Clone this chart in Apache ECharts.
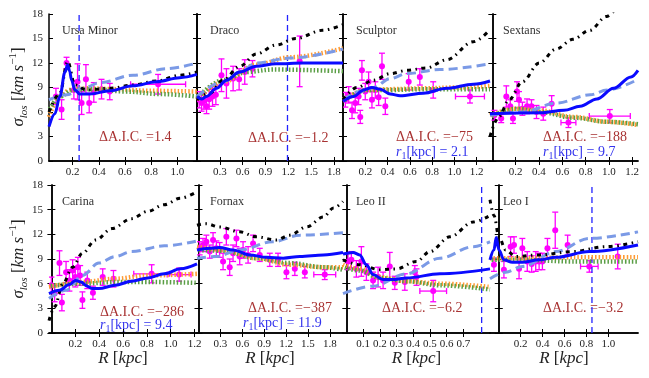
<!DOCTYPE html>
<html><head><meta charset="utf-8">
<script src="https://cdn.jsdelivr.net/npm/echarts@6/dist/echarts.min.js"></script>
<style>html,body{margin:0;padding:0;background:#fff}#c{width:649px;height:378px}</style>
</head><body><div id="c"></div><script>
// ---------- DATA ----------
const galaxyNames = ['Ursa Minor','Draco','Sculptor','Sextans','Carina','Fornax','Leo II','Leo I'];
const aicValues = ['1.4','\u22121.2','\u221275','\u2212188','\u2212286','\u2212387','\u22126.2','\u22123.2'];
const r1Values = [null,null,'2.1','9.7','9.4','11.9',null,null];
const yTicks = [0,3,6,9,12,15,18];
const xRanges = [[0.02,1.15],[0,1.92],[0,1.32],[-0.02,1.25],[-0.02,1.22],[-0.02,1.98],[-0.02,0.86],[-0.08,1.27]];
const xTicks = [
  [0.2,0.4,0.6,0.8,1.0],[0.3,0.6,0.9,1.2,1.5,1.8],[0.2,0.4,0.6,0.8,1.0,1.2],[0.2,0.4,0.6,0.8,1.0,1.2],
  [0.2,0.4,0.6,0.8,1.0,1.2],[0.3,0.6,0.9,1.2,1.5,1.8],[0.1,0.2,0.3,0.4,0.5,0.6,0.7],[0.2,0.4,0.6,0.8,1.0]];
const vlineX = [0.25,1.19,null,null,null,null,0.81,0.85];

// observed points: [R, sigma, sigmaErr, Rerr]
const umiObs = [[0.073,7.9,1.0,0],[0.116,6.3,1.2,0],[0.154,12.0,0.7,0],[0.21,8.7,1.1,0],[0.238,9.7,2.2,0],[0.269,7.1,1.4,0],[0.302,10.0,1.8,0],[0.327,7.1,1.2,0],[0.362,8.4,1.2,0],[0.421,8.8,1.2,0],[0.484,8.5,1.0,0],[0.853,9.4,1.2,0.21]];
const umiFit = [[0.02,4.2],[0.065,5.8],[0.103,7.9],[0.142,10.9],[0.162,11.8],[0.178,11.0],[0.192,9.9],[0.218,8.7],[0.256,8.2],[0.332,8.2],[0.484,8.6],[0.662,9.2],[0.84,9.7],[1.018,10.2],[1.15,10.6]];
const umiDash = [[0.02,7.5],[0.154,8.1],[0.281,8.9],[0.408,9.6],[0.662,10.5],[0.916,11.3],[1.15,12.0]];
const umiBlack = [[0.02,6.0],[0.103,8.3],[0.162,12.2],[0.218,9.3],[0.307,8.7],[0.484,8.9],[0.662,9.3],[0.84,9.8],[1.018,10.5],[1.15,10.9]];
const umiOrange = [[0.02,5.4],[0.103,7.9],[0.179,8.7],[0.307,8.9],[0.535,8.8],[0.789,8.6],[1.15,8.5]];
const umiGreen = [[0.02,6.2],[0.103,7.9],[0.205,8.7],[0.357,8.8],[0.611,8.5],[0.865,8.2],[1.15,7.9]];

const draObs = [[0.029,7.5,1.0,0],[0.06,7.1,1.0,0],[0.09,7.35,1.0,0],[0.125,6.7,0.9,0],[0.16,7.55,1.2,0],[0.204,7.9,1.2,0],[0.248,8.1,1.2,0],[0.322,10.5,2.0,0],[0.387,9.5,1.8,0],[0.475,10.1,1.5,0],[0.554,10.0,1.3,0],[0.628,10.9,1.5,0],[0.729,11.3,1.0,0],[1.35,12.2,3.1,0]];
const draFit = [[0,7.9],[0.06,7.6],[0.125,7.9],[0.256,8.9],[0.387,9.9],[0.562,10.9],[0.78,11.6],[1.04,11.9],[1.39,12.0],[1.92,12.0]];
const draDash = [[0,7.9],[0.343,9.7],[0.562,10.9],[0.78,12.0],[1.22,12.6],[1.92,13.7]];
const draBlack = [[0,7.5],[0.17,8.3],[0.343,9.9],[0.562,11.6],[0.78,13.1],[1.04,14.2],[1.3,15.0],[1.65,16.0],[1.92,16.7]];
const draOrange = [[0,7.5],[0.343,9.7],[0.78,11.8],[1.22,12.7],[1.92,13.8]];
const draGreen = [[0,7.7],[0.343,9.9],[0.65,10.9],[1.0,11.2],[1.92,11.0]];

const sclObs = [[0.021,7.5,0.9,0],[0.051,8.1,1.0,0],[0.081,6.2,1.0,0],[0.11,7.1,1.2,0],[0.14,7.9,1.0,0],[0.155,5.4,0.8,0],[0.17,11.1,1.2,0],[0.2,8.5,1.0,0],[0.23,9.7,1.2,0],[0.26,7.5,1.0,0],[0.29,8.7,1.0,0],[0.32,7.8,1.0,0],[0.35,11.6,1.6,0],[0.38,6.7,1.0,0],[0.59,9.7,1.0,0],[0.69,10.3,1.0,0],[0.81,8.7,1.0,0],[1.14,7.9,0.8,0.13]];
const sclFit = [[0,7.3],[0.095,7.9],[0.185,8.7],[0.26,9.0],[0.334,8.8],[0.424,8.2],[0.513,8.0],[0.722,8.3],[0.931,8.9],[1.17,9.4],[1.32,9.8]];
const sclDash = [[0,7.5],[0.155,8.5],[0.275,9.0],[0.424,10.1],[0.573,10.7],[0.87,11.2],[1.32,11.9]];
const sclBlack = [[0,7.5],[0.125,9.0],[0.275,9.9],[0.424,10.7],[0.573,11.1],[0.752,11.4],[0.931,12.4],[1.17,14.6],[1.32,16.1]];
const sclOrange = [[0,7.5],[0.215,8.7],[0.424,8.8],[0.722,8.9],[1.02,9.0],[1.32,9.2]];
const sclGreen = [[0,7.3],[0.215,8.7],[0.424,8.7],[0.722,8.8],[1.02,8.8],[1.32,8.8]];

const sexObs = [[0.018,5.6,0.6,0],[0.076,5.2,0.5,0],[0.12,7.9,1.3,0],[0.154,6.7,0.8,0],[0.177,5.2,0.6,0],[0.212,8.5,1.2,0],[0.229,7.5,1.0,0],[0.258,6.4,0.8,0],[0.298,6.7,0.9,0],[0.336,6.7,0.8,0],[0.379,6.0,0.8,0],[0.437,5.8,0.8,0],[0.509,7.0,1.0,0],[0.653,4.7,0.6,0.064],[1.008,5.5,0.8,0.176]];
const sexFit = [[-0.02,5.8],[0.413,5.9],[0.615,6.2],[0.754,6.7],[0.898,7.6],[1.04,8.9],[1.19,10.3],[1.25,11.1]];
const sexDash = [[-0.02,5.6],[0.263,6.0],[0.552,7.1],[0.84,8.1],[0.985,8.7],[1.25,10.0]];
const sexBlack = [[-0.02,3.0],[0.056,5.4],[0.143,7.5],[0.258,9.7],[0.403,12.0],[0.547,13.7],[0.691,14.9],[0.836,16.0],[0.98,17.7],[1.04,18.3]];
const sexOrange = [[-0.02,5.6],[0.206,6.4],[0.408,6.2],[0.697,5.4],[0.985,4.8],[1.25,4.4]];
const sexGreen = [[-0.02,5.4],[0.206,6.4],[0.408,6.0],[0.697,5.3],[0.985,4.8],[1.25,4.5]];

const carObs = [[0.0,5.8,1.0,0],[0.027,4.8,1.0,0],[0.068,8.5,1.5,0],[0.088,3.7,1.0,0],[0.123,7.4,1.3,0],[0.151,6.4,1.3,0],[0.178,7.6,1.3,0],[0.2,6.8,1.2,0],[0.222,8.0,1.2,0],[0.241,7.0,1.2,0],[0.26,4.0,1.0,0],[0.301,6.4,1.0,0],[0.348,4.9,0.8,0],[0.43,6.8,1.0,0],[0.52,6.6,1.0,0],[0.84,7.2,1.1,0.15],[1.07,7.1,0.8,0.1]];
const carFit = [[-0.02,4.8],[0.068,5.2],[0.151,5.9],[0.2,6.4],[0.247,6.2],[0.301,5.7],[0.342,5.4],[0.397,5.4],[0.534,5.8],[0.671,6.3],[0.808,6.7],[0.945,7.2],[1.082,7.8],[1.22,8.4]];
const carDash = [[-0.02,4.2],[0.123,5.2],[0.26,7.0],[0.397,8.5],[0.534,9.3],[0.671,9.9],[0.945,10.6],[1.22,11.2]];
const carBlack = [[-0.02,1.5],[0.027,3.2],[0.096,6.0],[0.178,8.0],[0.26,9.7],[0.37,11.3],[0.507,12.7],[0.671,13.9],[0.808,14.8],[0.945,15.6],[1.082,16.4],[1.22,17.2]];
const carOrange = [[-0.02,5.6],[0.26,6.2],[0.534,6.6],[0.808,7.0],[1.22,7.2]];
const carGreen = [[-0.02,5.7],[0.26,6.0],[0.534,6.2],[0.808,6.2],[1.22,6.1]];

const forObs = [[0.016,10.3,0.8,0],[0.062,10.7,0.8,0],[0.108,11.1,0.8,0],[0.154,9.9,0.8,0],[0.2,11.3,0.9,0],[0.245,10.3,0.9,0],[0.29,10.1,0.9,0],[0.337,8.7,1.0,0],[0.382,11.7,1.0,0],[0.428,8.0,1.0,0],[0.474,9.7,1.0,0],[0.52,11.5,1.0,0],[0.565,9.3,1.0,0],[0.611,10.1,1.0,0],[0.68,9.5,1.0,0],[0.748,10.9,1.0,0],[0.84,9.5,0.8,0],[0.977,8.9,0.8,0],[1.09,8.9,0.8,0],[1.205,7.4,0.8,0],[1.32,7.8,0.8,0],[1.457,7.4,0.7,0],[1.73,7.1,0.6,0.15]];
const forFit = [[-0.02,10.1],[0.154,10.3],[0.29,10.4],[0.474,10.1],[0.7,9.5],[0.93,9.2],[1.16,9.1],[1.39,9.3],[1.71,9.5],[1.98,9.8]];
const forDash = [[-0.02,9.1],[0.245,9.3],[0.565,10.1],[1.02,11.1],[1.39,11.9],[1.98,12.2]];
const forBlack = [[-0.02,13.1],[0.1,13.3],[0.29,12.9],[0.565,12.3],[0.794,11.7],[1.07,11.3],[1.25,11.9],[1.48,12.9],[1.71,14.1],[1.85,15.2],[1.98,16.0]];
const forOrange = [[-0.02,10.5],[0.337,10.1],[0.794,9.1],[1.25,8.3],[1.71,8.0],[1.98,8.0]];
const forGreen = [[-0.02,10.1],[0.337,10.0],[0.794,9.1],[1.25,8.5],[1.71,8.0],[1.98,7.7]];

const leo2Obs = [[0.01,8.7,1.0,0],[0.03,8.9,1.0,0],[0.06,7.8,1.0,0],[0.09,8.7,1.8,0],[0.12,7.4,1.0,0],[0.16,6.4,1.0,0],[0.19,6.8,1.2,0],[0.22,6.4,1.0,0],[0.26,8.1,1.7,0],[0.29,6.1,0.8,0],[0.35,6.2,1.0,0],[0.41,7.4,0.8,0],[0.42,6.8,1.0,0],[0.52,5.1,1.3,0.08]];
const leo2Fit = [[-0.02,9.6],[0.04,9.8],[0.08,9.5],[0.12,8.3],[0.16,7.1],[0.22,6.5],[0.28,6.5],[0.36,6.7],[0.56,7.2],[0.86,7.8]];
const leo2Dash = [[-0.02,4.8],[0.16,5.7],[0.36,7.2],[0.56,9.1],[0.76,10.5],[0.86,11.1]];
const leo2Black = [[-0.02,8.9],[0.08,8.3],[0.2,7.7],[0.3,7.8],[0.42,8.7],[0.5,9.9],[0.62,11.7],[0.76,13.5],[0.86,14.3]];
const leo2Orange = [[-0.02,8.3],[0.08,7.8],[0.2,6.8],[0.36,6.3],[0.56,6.0],[0.86,5.6]];
const leo2Green = [[-0.02,8.0],[0.08,7.6],[0.2,6.7],[0.36,6.3],[0.56,5.8],[0.86,5.3]];

const leo1Obs = [[-0.044,8.3,0.8,0],[0.047,7.7,1.0,0],[0.108,10.5,1.2,0],[0.139,10.7,1.0,0],[0.185,7.8,1.2,0],[0.215,10.3,1.2,0],[0.26,8.7,1.2,0],[0.30,8.4,1.0,0],[0.337,8.7,1.2,0],[0.368,8.7,1.0,0],[0.398,8.7,1.0,0],[0.444,10.3,1.2,0],[0.515,12.5,2.2,0],[0.628,10.7,1.2,0],[0.826,8.1,0.7,0.08],[1.085,9.3,1.5,0]];
const leo1Fit = [[-0.08,8.9],[-0.044,10.1],[-0.023,11.6],[0.0015,10.1],[0.047,8.9],[0.124,8.6],[0.215,8.6],[0.368,8.9],[0.52,9.2],[0.826,9.9],[1.27,10.7]];
const leo1Dash = [[-0.08,6.6],[0.063,7.4],[0.215,8.1],[0.52,9.9],[0.826,11.5],[1.27,12.3]];
const leo1Black = [[-0.08,16.2],[-0.044,14.3],[0.0015,11.7],[0.063,10.1],[0.154,9.3],[0.368,9.5],[0.674,9.9],[0.979,10.5],[1.27,11.1]];
const leo1Orange = [[-0.08,9.1],[0.215,9.1],[0.674,9.2],[1.27,9.2]];
const leo1Green = [[-0.08,8.9],[0.215,8.9],[0.674,8.7],[1.27,8.7]];

// ---------- BUILD ----------
const obsSets = [umiObs,draObs,sclObs,sexObs,carObs,forObs,leo2Obs,leo1Obs];
const fitSets = [umiFit,draFit,sclFit,sexFit,carFit,forFit,leo2Fit,leo1Fit];
const dashSets = [umiDash,draDash,sclDash,sexDash,carDash,forDash,leo2Dash,leo1Dash];
const blackSets = [umiBlack,draBlack,sclBlack,sexBlack,carBlack,forBlack,leo2Black,leo1Black];
const orangeSets = [umiOrange,draOrange,sclOrange,sexOrange,carOrange,forOrange,leo2Orange,leo1Orange];
const greenSets = [umiGreen,draGreen,sclGreen,sexGreen,carGreen,forGreen,leo2Green,leo1Green];

const SERIF = '"Liberation Serif","DejaVu Serif",serif';
const MAG = '#ff00ff';
const colL = [49,197,343,490], colW = [148,146,147,148];
const rowT = [14,185], rowH = [147,148];

const grid = [], xAxis = [], yAxis = [], series = [], graphic = [];
for (let i = 0; i < 8; i++) {
  const r = Math.floor(i/4), c = i % 4;
  grid.push({left: colL[c], top: rowT[r], width: colW[c], height: rowH[r]});
  const line = {show: true, lineStyle: {color: '#000', width: 1.5}};
  const tick = {show: true, inside: true, length: 4, customValues: xTicks[i], lineStyle: {color: '#000', width: 1}};
  xAxis.push({type: 'value', gridIndex: i, position: 'bottom', min: xRanges[i][0], max: xRanges[i][1],
    axisLine: line, axisTick: tick, splitLine: {show: false},
    axisLabel: {customValues: xTicks[i], formatter: v => v.toFixed(1), fontFamily: SERIF, fontSize: 11, color: '#222', margin: 6}});
  xAxis.push({type: 'value', gridIndex: i, position: 'top', min: xRanges[i][0], max: xRanges[i][1],
    axisLine: line, axisTick: tick, splitLine: {show: false}, axisLabel: {show: false}});
  const ytick = {show: true, inside: true, length: 4, lineStyle: {color: '#000', width: 1}};
  yAxis.push({type: 'value', gridIndex: i, position: 'left', min: 0, max: 18, interval: 3,
    axisLine: line, axisTick: ytick, splitLine: {show: false},
    axisLabel: {show: c === 0, fontFamily: SERIF, fontSize: 11, color: '#222', margin: 6}});
  yAxis.push({type: 'value', gridIndex: i, position: 'right', min: 0, max: 18, interval: 3,
    axisLine: line, axisTick: ytick, splitLine: {show: false}, axisLabel: {show: false}});
  const xi = 2*i, yi = 2*i;
  const ln = (data, style) => ({type: 'line', xAxisIndex: xi, yAxisIndex: yi, data, showSymbol: false, symbol: 'none',
    smooth: 0.35, smoothMonotone: 'x', clip: true, silent: true, lineStyle: style, animation: false});
  if (vlineX[i] !== null) {
    series.push({type: 'line', xAxisIndex: xi, yAxisIndex: yi, data: [[vlineX[i], 0], [vlineX[i], 18]], symbol: 'none',
      lineStyle: {color: '#2222ff', width: 1.3, type: [6, 4]}, animation: false});
  }
  series.push(ln(orangeSets[i], {color: '#ff9a33', width: 4.5, type: [1.5, 2]}));
  series.push(ln(greenSets[i], {color: '#5a9e45', width: 4.5, type: [1.5, 2], dashOffset: 1.7}));
  series.push(ln(dashSets[i], {color: '#7b9ae6', width: 3, type: [9, 5]}));
  series.push(ln(blackSets[i], {color: '#000', width: 3, type: [4, 4.5, 1.5, 4.5]}));
  series.push({type: 'custom', xAxisIndex: xi, yAxisIndex: yi, data: obsSets[i], clip: true, animation: false,
    encode: {x: 0, y: 1},
    renderItem: (params, api) => {
      const x = api.value(0), y = api.value(1), ey = api.value(2), ex = api.value(3);
      const p = api.coord([x, y]), t = api.coord([x, y + ey]), b = api.coord([x, y - ey]);
      const st = {stroke: MAG, lineWidth: 1.3};
      const ch = [
        {type: 'line', shape: {x1: p[0], y1: t[1], x2: p[0], y2: b[1]}, style: st},
        {type: 'line', shape: {x1: p[0]-3, y1: t[1], x2: p[0]+3, y2: t[1]}, style: st},
        {type: 'line', shape: {x1: p[0]-3, y1: b[1], x2: p[0]+3, y2: b[1]}, style: st}];
      if (ex > 0) {
        const l = api.coord([x - ex, y]), rr = api.coord([x + ex, y]);
        ch.push({type: 'line', shape: {x1: l[0], y1: p[1], x2: rr[0], y2: p[1]}, style: st});
        ch.push({type: 'line', shape: {x1: l[0], y1: p[1]-3, x2: l[0], y2: p[1]+3}, style: st});
        ch.push({type: 'line', shape: {x1: rr[0], y1: p[1]-3, x2: rr[0], y2: p[1]+3}, style: st});
      }
      ch.push({type: 'circle', shape: {cx: p[0], cy: p[1], r: 3}, style: {fill: MAG}});
      return {type: 'group', children: ch};
    }});
  series.push(ln(fitSets[i], {color: '#0a0aff', width: 3}));

  // texts
  const gl = colL[c], gt = rowT[r];
  graphic.push({type: 'text', left: gl + 13, top: gt + 11, style: {text: galaxyNames[i], fontFamily: SERIF, fontSize: 12, fill: '#333'}});
}
const aicPos = [[99,137],[248,138],[396,137],[543,137],[100,312],[248,308],[382,308],[543,308]];
const r1Pos = [null,null,[396,152],[543,152],[100,325],[243,323],null,null];
for (let i = 0; i < 8; i++) {
  graphic.push({type: 'text', x: aicPos[i][0], y: aicPos[i][1],
    style: {text: '\u0394A.I.C. =' + aicValues[i], fontFamily: SERIF, fontSize: 14, fill: '#a83232', verticalAlign: 'middle'}});
  if (r1Values[i] !== null) {
    graphic.push({type: 'text', x: r1Pos[i][0], y: r1Pos[i][1],
      style: {text: '{it|r}{sb|1}{n|[kpc] = ' + r1Values[i] + '}', verticalAlign: 'middle', fill: '#3333ee',
        rich: {it: {fontFamily: SERIF, fontStyle: 'italic', fontSize: 14, fill: '#3333ee', lineHeight: 18},
               sb: {fontFamily: SERIF, fontSize: 10, fill: '#3333ee', lineHeight: 10, verticalAlign: 'bottom'},
               n: {fontFamily: SERIF, fontSize: 14, fill: '#3333ee', lineHeight: 18}}}});
  }
}
const yTitleRich = {
  s: {fontFamily: SERIF, fontStyle: 'italic', fontSize: 17, fill: '#222', lineHeight: 22},
  sub: {fontFamily: SERIF, fontStyle: 'italic', fontSize: 11, fill: '#222', lineHeight: 10, verticalAlign: 'bottom'},
  n: {fontFamily: SERIF, fontSize: 17, fill: '#222', lineHeight: 22},
  i: {fontFamily: SERIF, fontStyle: 'italic', fontSize: 17, fill: '#222', lineHeight: 22},
  sup: {fontFamily: SERIF, fontSize: 11, fill: '#222', lineHeight: 10, verticalAlign: 'top'}};
[87, 259].forEach(cy => {
  graphic.push({type: 'text', x: 19, y: cy, rotation: Math.PI/2,
    style: {text: '{s|\u03c3}{sub|los}{n| [}{i|km s}{sup|\u22121}{n|]}', align: 'center', verticalAlign: 'middle', rich: yTitleRich}});
});
for (let c = 0; c < 4; c++) {
  graphic.push({type: 'text', x: colL[c] + colW[c]/2, y: 359,
    style: {text: '{i|R}{n| [}{i|kpc}{n|]}', align: 'center', verticalAlign: 'middle', rich: yTitleRich}});
}

const chart = echarts.init(document.getElementById('c'), null, {renderer: 'canvas'});
chart.setOption({animation: false, backgroundColor: '#fff', grid, xAxis, yAxis, series, graphic});
</script></body></html>
